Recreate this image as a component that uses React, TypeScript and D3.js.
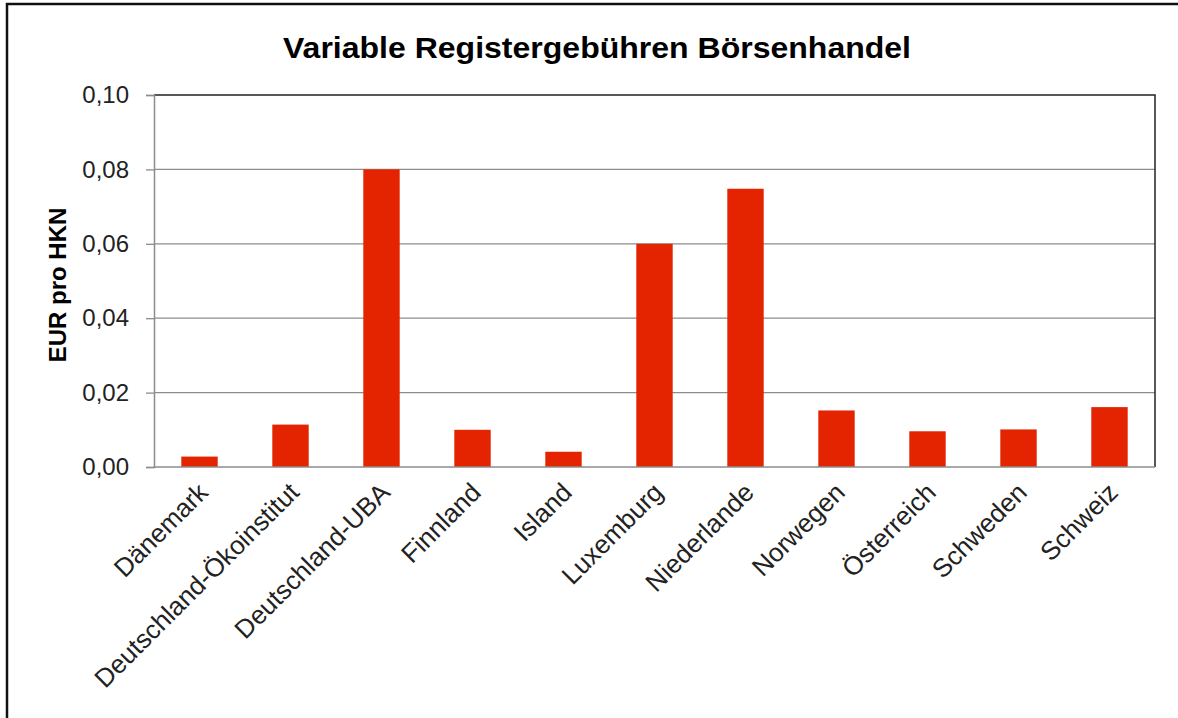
import { useRef, useEffect } from "react";
import * as d3 from "d3";

// Werte (EUR pro HKN)
const categories = [
  "Dänemark",
  "Deutschland-Ökoinstitut",
  "Deutschland-UBA",
  "Finnland",
  "Island",
  "Luxemburg",
  "Niederlande",
  "Norwegen",
  "Österreich",
  "Schweden",
  "Schweiz",
];
const values = [0.0028, 0.0114, 0.08, 0.0100, 0.0041, 0.06, 0.0748, 0.0152, 0.0096, 0.0101, 0.0161];
const yTicks = [0, 0.02, 0.04, 0.06, 0.08, 0.1];

const App = () => {
  const svgRef = useRef<SVGSVGElement>(null);
  const width = 1178;
  const height = 718;
  const margin = { top: 95, right: 23, bottom: 251, left: 154 };

  useEffect(() => {
    const svg = d3.select(svgRef.current);
    svg.selectAll("*").remove();

    const innerW = width - margin.left - margin.right;
    const innerH = height - margin.top - margin.bottom;
    const font = "Arial, 'Liberation Sans', sans-serif";

    svg.append("rect")
      .attr("width", width).attr("height", height).attr("fill", "#fff");

    // outer frame (runs past the right and bottom edge)
    svg.append("rect")
      .attr("x", 7).attr("y", 4)
      .attr("width", width + 20).attr("height", height + 20)
      .attr("fill", "none").attr("stroke", "#111").attr("stroke-width", 2.5);

    svg.append("text")
      .attr("x", 597).attr("y", 58)
      .attr("text-anchor", "middle")
      .attr("font-family", font).attr("font-weight", "bold")
      .attr("font-size", 29)
      .attr("textLength", 628).attr("lengthAdjust", "spacingAndGlyphs")
      .text("Variable Registergebühren Börsenhandel");

    const x = d3.scaleBand()
      .domain(categories)
      .range([0, innerW])
      .paddingInner(0.6)
      .paddingOuter(0.3);

    const y = d3.scaleLinear().domain([0, 0.1]).range([innerH, 0]);

    const g = svg.append("g").attr("transform", `translate(${margin.left},${margin.top})`);

    // grid
    g.selectAll(".grid")
      .data(yTicks.filter(t => t > 0 && t < 0.1))
      .enter().append("line")
      .attr("x1", 0).attr("x2", innerW)
      .attr("y1", d => y(d)).attr("y2", d => y(d))
      .attr("stroke", "#8c8c8c").attr("stroke-width", 1.3);

    // top and right frame of plot area
    g.append("path")
      .attr("d", `M0,${y(0.1)}H${innerW}V${innerH}`)
      .attr("fill", "none").attr("stroke", "#222").attr("stroke-width", 1.5);

    // bars
    g.selectAll(".bar")
      .data(values)
      .enter().append("rect")
      .attr("x", (d, i) => x(categories[i])!)
      .attr("y", d => y(d))
      .attr("width", x.bandwidth())
      .attr("height", d => innerH - y(d))
      .attr("fill", "#e42400");

    // y axis
    const yAxis = g.append("g")
      .call(d3.axisLeft(y).tickValues(yTicks).tickSize(8).tickPadding(17)
        .tickFormat(d => d3.format(".2f")(d as number).replace(".", ",")));
    yAxis.select(".domain").attr("stroke", "#8c8c8c").attr("stroke-width", 1.5);
    yAxis.selectAll(".tick line").attr("stroke", "#8c8c8c").attr("stroke-width", 1.3);
    yAxis.selectAll(".tick text")
      .attr("font-family", font).attr("font-size", 24).attr("fill", "#222");

    // x axis baseline
    g.append("line")
      .attr("x1", 0).attr("x2", innerW)
      .attr("y1", innerH).attr("y2", innerH)
      .attr("stroke", "#8c8c8c").attr("stroke-width", 1.5);

    // category labels
    g.selectAll(".cat")
      .data(categories)
      .enter().append("text")
      .attr("transform", d => `translate(${x(d)! + x.bandwidth() / 2 + 10},${innerH + 27}) rotate(-45)`)
      .attr("text-anchor", "end")
      .attr("font-family", font).attr("font-size", 26).attr("fill", "#222")
      .text(d => d);

    // y axis title
    svg.append("text")
      .attr("transform", `translate(66,${margin.top + innerH / 2 + 4}) rotate(-90)`)
      .attr("text-anchor", "middle")
      .attr("font-family", font).attr("font-weight", "bold").attr("font-size", 24)
      .text("EUR pro HKN");
  }, []);

  return (
    <div className="App">
      <svg ref={svgRef} width={width} height={height}
        style={{ position: "absolute", left: 0, top: 0 }}></svg>
    </div>
  );
};

export default App;
